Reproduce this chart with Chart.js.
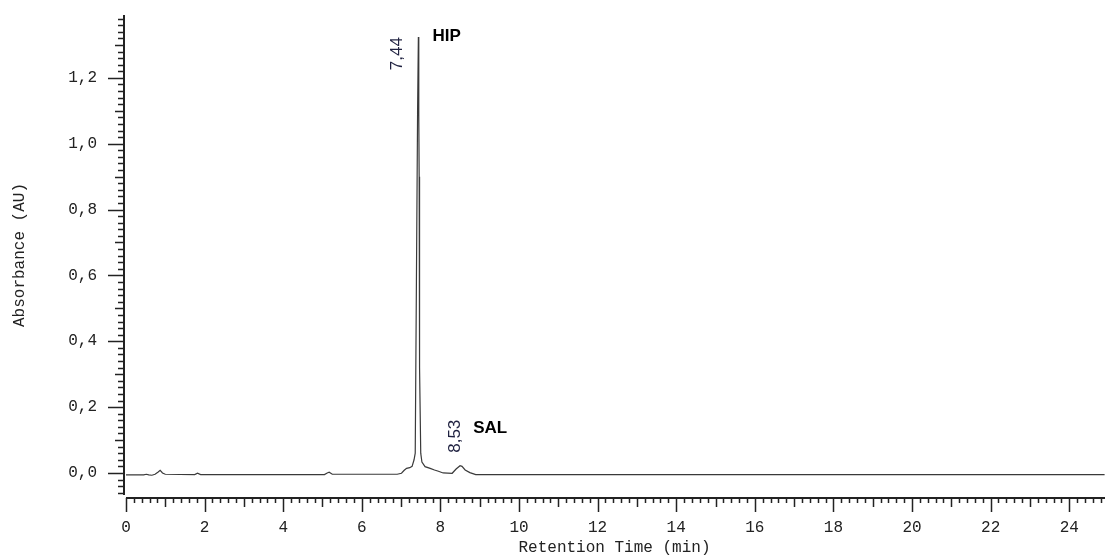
<!DOCTYPE html>
<html>
<head>
<meta charset="utf-8">
<title>Chromatogram</title>
<script src="https://cdn.jsdelivr.net/npm/chart.js@4.4.1/dist/chart.umd.min.js"></script>
<style>
  body { margin: 0; background: #fff; }
  canvas { display: block; }
</style>
</head>
<body>
<canvas id="chromatogram" width="1105" height="555"></canvas>
<script>
// Chromatogram data (min / AU)
var retentionTimes = [0, 0.45, 0.52, 0.58, 0.66, 0.74, 0.82, 0.87, 0.93, 1.0, 1.75, 1.82, 1.9,
    5.05, 5.12, 5.17, 5.25, 6.9, 7.01, 7.08, 7.14, 7.22, 7.28, 7.33, 7.36, 7.39, 7.42, 7.44,
    7.45, 7.46, 7.47, 7.5, 7.53, 7.61, 7.74, 7.85, 7.95, 8.07, 8.3, 8.4, 8.5, 8.55, 8.63, 8.75,
    8.9, 24.9];
var absorbance = [-0.006, -0.006, -0.004, -0.006, -0.007, -0.004, 0.003, 0.008, 0.0, -0.004, -0.005, -0.001, -0.005,
    -0.005, 0.0, 0.002, -0.004, -0.004, -0.001, 0.008, 0.014, 0.016, 0.02, 0.04, 0.06, 0.58, 1.1, 1.324,
    1.09, 0.9, 0.32, 0.06, 0.033, 0.019, 0.014, 0.009, 0.005, 0.0, -0.001, 0.012, 0.022, 0.02, 0.009, 0.001,
    -0.005, -0.005];

// Peaks
var peakTimes = [7.44, 8.53];
var peakHeights = [1.324, 0.022];
var peakNames = ["HIP", "SAL"];

// Axis ticks
var xTickStep = 2;
var yTickStep = 0.2;

var monoFont = "'Liberation Mono', 'Courier New', monospace";
var sansFont = "'Liberation Sans', Arial, sans-serif";

var points = retentionTimes.map(function (t, i) {
    return { x: t, y: absorbance[i] };
});

// label placement relative to the peak apex (px)
var peakLabelStyle = [
    { timeDx: -21, timeDy: 0, nameDx: 14, nameDy: 4 },
    { timeDx: -6, timeDy: -46, nameDx: 12, nameDy: -33 }
];

var axisPlugin = {
    id: "axisPlugin",
    afterDraw: function (chart) {
        var ctx = chart.ctx;
        var xs = chart.scales.x;
        var ys = chart.scales.y;
        var area = chart.chartArea;
        var xAxisY = area.bottom + 3;
        var x0 = xs.getPixelForValue(0);
        var i, v, px, len;

        ctx.save();
        ctx.strokeStyle = "#222";

        // axis lines
        ctx.lineWidth = 2;
        ctx.beginPath();
        ctx.moveTo(area.left, area.top);
        ctx.lineTo(area.left, area.bottom);
        ctx.moveTo(x0, xAxisY);
        ctx.lineTo(area.right, xAxisY);
        ctx.stroke();

        // y ticks every 0.02
        ctx.lineWidth = 1.5;
        ctx.beginPath();
        for (i = -3; i <= 69; i++) {
            v = i * 0.02;
            if (v > ys.max) break;
            px = Math.round(ys.getPixelForValue(v)) + 0.5;
            len = (i % 10 === 0) ? 16 : (i % 5 === 0 ? 9 : 6);
            ctx.moveTo(area.left - len, px);
            ctx.lineTo(area.left, px);
        }
        ctx.stroke();

        // x ticks every 0.2
        ctx.beginPath();
        for (i = 0; i <= 124; i++) {
            v = i * 0.2;
            if (v > xs.max) break;
            px = Math.round(xs.getPixelForValue(v)) + 0.5;
            len = (i % 10 === 0) ? 14 : (i % 5 === 0 ? 9 : 5);
            ctx.moveTo(px, xAxisY);
            ctx.lineTo(px, xAxisY + len);
        }
        ctx.stroke();

        // peak labels
        for (i = 0; i < peakTimes.length; i++) {
            var st = peakLabelStyle[i];
            var pxp = xs.getPixelForValue(peakTimes[i]);
            var pyp = ys.getPixelForValue(peakHeights[i]);

            ctx.save();
            ctx.translate(pxp + st.timeDx, pyp + st.timeDy);
            ctx.rotate(-Math.PI / 2);
            ctx.fillStyle = "#1f2140";
            ctx.font = "17px " + sansFont;
            ctx.textAlign = "right";
            ctx.textBaseline = "middle";
            ctx.fillText(peakTimes[i].toFixed(2).replace(".", ","), 0, 0);
            ctx.restore();

            ctx.fillStyle = "#000";
            ctx.font = "bold 17px " + sansFont;
            ctx.textAlign = "left";
            ctx.textBaseline = "alphabetic";
            ctx.fillText(peakNames[i], pxp + st.nameDx, pyp + st.nameDy);
        }
        ctx.restore();
    }
};

new Chart("chromatogram", {
    type: "line",
    data: {
        datasets: [{
            label: "Absorbance",
            data: points,
            borderColor: "#3a3a3a",
            borderWidth: 1.2,
            pointRadius: 0,
            tension: 0,
            fill: false
        }]
    },
    options: {
        responsive: false,
        animation: false,
        layout: {
            padding: { top: 15, left: 0, right: 0, bottom: 0 }
        },
        plugins: {
            legend: { display: false },
            tooltip: { enabled: false }
        },
        scales: {
            x: {
                type: "linear",
                min: -0.05,
                max: 24.91,
                afterFit: function (scale) {
                    scale.height = 60;
                    scale.paddingLeft = 0;
                    scale.paddingRight = 0;
                },
                grid: { display: false, drawTicks: true, tickLength: 17 },
                border: { display: false },
                ticks: {
                    stepSize: xTickStep,
                    includeBounds: false,
                    maxRotation: 0,
                    autoSkip: false,
                    padding: 6,
                    color: "#222",
                    font: { family: monoFont, size: 16 },
                    callback: function (value) { return String(value); }
                },
                title: {
                    display: true,
                    text: "Retention Time (min)",
                    color: "#222",
                    font: { family: monoFont, size: 16 },
                    padding: { top: 0, bottom: -2 }
                }
            },
            y: {
                min: -0.067,
                max: 1.391,
                afterFit: function (scale) {
                    scale.width = 124;
                    scale.paddingTop = 0;
                    scale.paddingBottom = 0;
                },
                grid: { display: false, drawTicks: true, tickLength: 16 },
                border: { display: false },
                ticks: {
                    stepSize: yTickStep,
                    includeBounds: false,
                    padding: 11,
                    color: "#222",
                    font: { family: monoFont, size: 16 },
                    callback: function (value) { return value.toFixed(1).replace(".", ","); }
                },
                title: {
                    display: true,
                    text: "Absorbance (AU)",
                    color: "#222",
                    font: { family: monoFont, size: 16 },
                    padding: { top: 10, bottom: 0 }
                }
            }
        }
    },
    plugins: [axisPlugin]
});
</script>
</body>
</html>
